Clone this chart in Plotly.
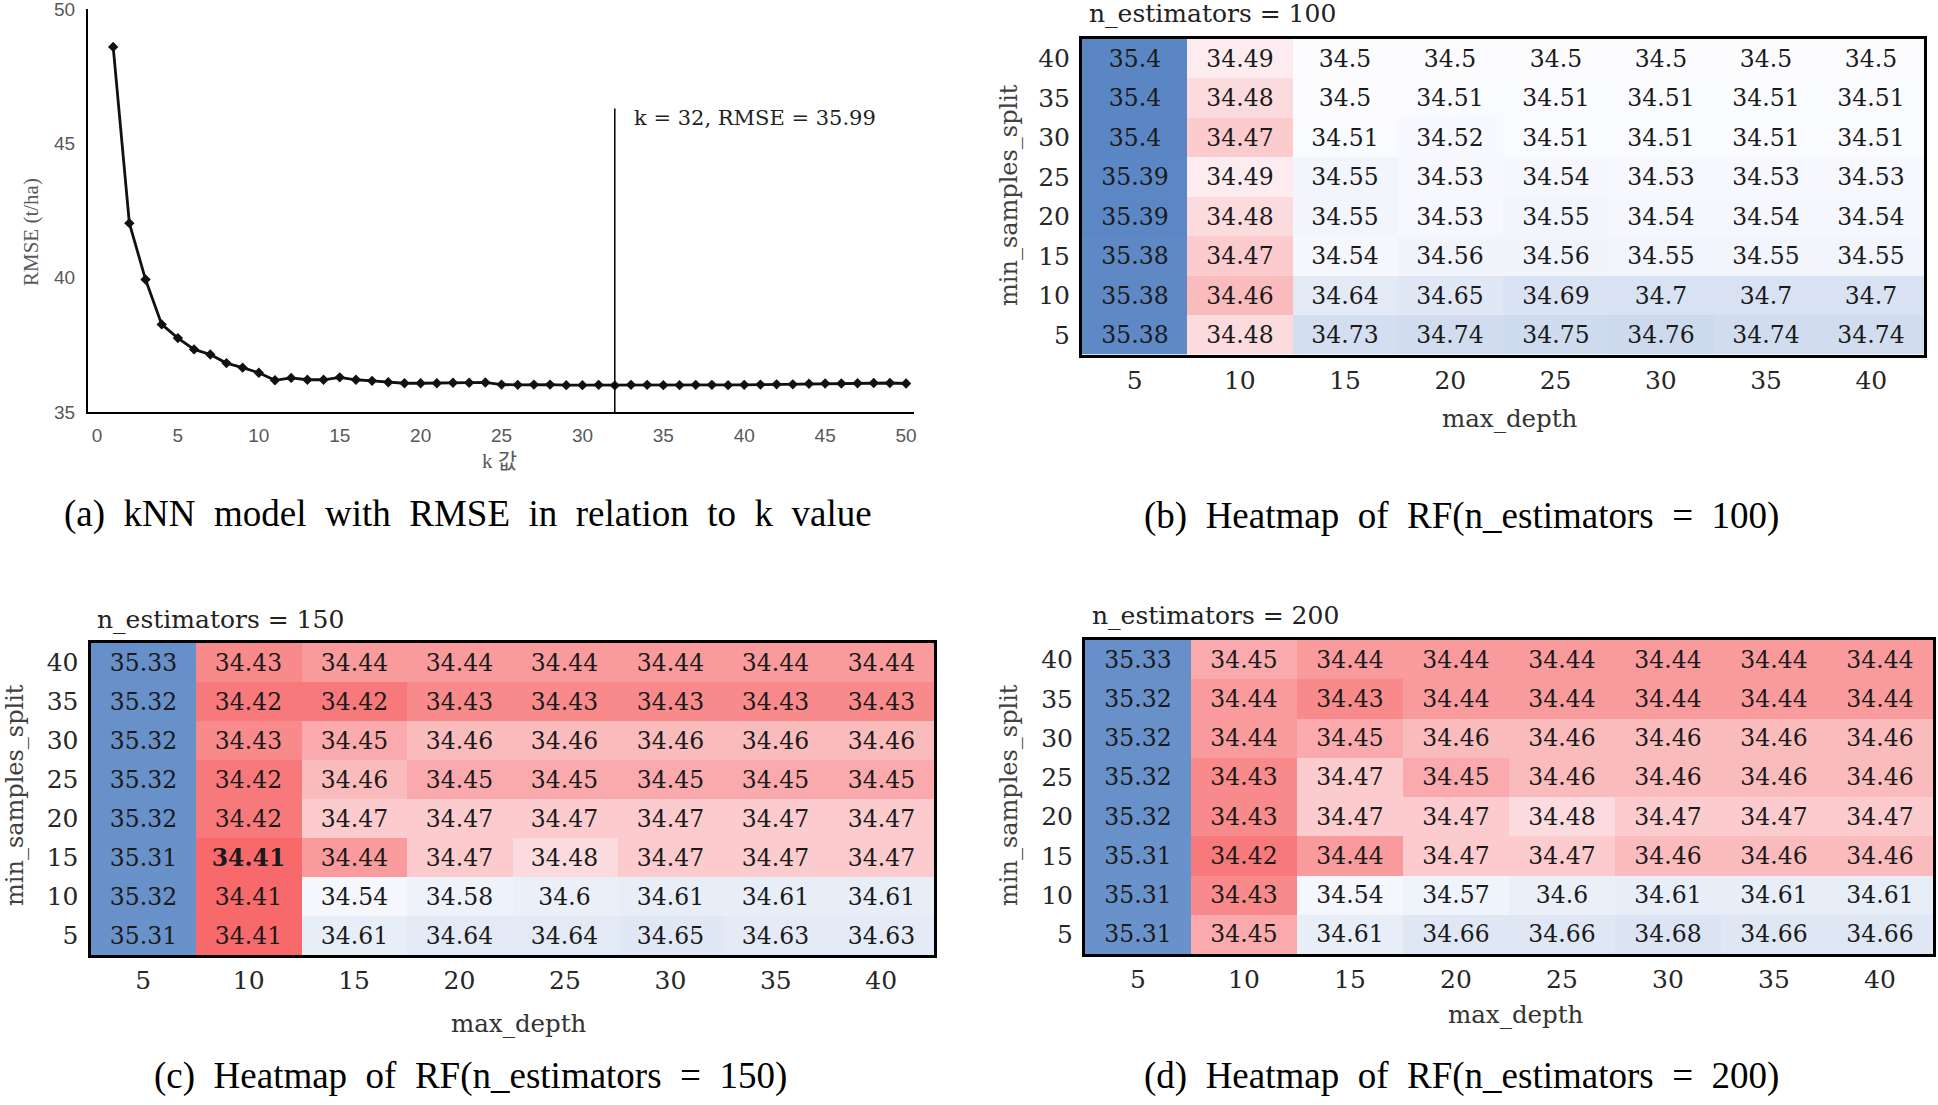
import plotly.graph_objects as go

W, H = 1938, 1105

# ---------------- data ----------------
k_values = list(range(1, 51))
rmse_values = [48.59, 42.03, 39.93, 38.26, 37.75, 37.33, 37.14, 36.82, 36.65, 36.46,
               36.18, 36.27, 36.20, 36.20, 36.29, 36.20, 36.16, 36.11, 36.07, 36.07,
               36.07, 36.09, 36.09, 36.10, 36.02, 36.01, 36.02, 36.02, 36.00, 36.00,
               36.01, 35.99, 36.01, 36.01, 36.00, 36.00, 36.01, 36.01, 36.00, 36.01,
               36.02, 36.03, 36.03, 36.05, 36.06, 36.06, 36.07, 36.08, 36.08, 36.06]
k_ticks = [0, 5, 10, 15, 20, 25, 30, 35, 40, 45, 50]
rmse_ticks = [35, 40, 45, 50]

depth_labels = ["5", "10", "15", "20", "25", "30", "35", "40"]
split_labels = ["40", "35", "30", "25", "20", "15", "10", "5"]

rf100 = [
    [35.4, 34.49, 34.5, 34.5, 34.5, 34.5, 34.5, 34.5],
    [35.4, 34.48, 34.5, 34.51, 34.51, 34.51, 34.51, 34.51],
    [35.4, 34.47, 34.51, 34.52, 34.51, 34.51, 34.51, 34.51],
    [35.39, 34.49, 34.55, 34.53, 34.54, 34.53, 34.53, 34.53],
    [35.39, 34.48, 34.55, 34.53, 34.55, 34.54, 34.54, 34.54],
    [35.38, 34.47, 34.54, 34.56, 34.56, 34.55, 34.55, 34.55],
    [35.38, 34.46, 34.64, 34.65, 34.69, 34.7, 34.7, 34.7],
    [35.38, 34.48, 34.73, 34.74, 34.75, 34.76, 34.74, 34.74],
]
rf150 = [
    [35.33, 34.43, 34.44, 34.44, 34.44, 34.44, 34.44, 34.44],
    [35.32, 34.42, 34.42, 34.43, 34.43, 34.43, 34.43, 34.43],
    [35.32, 34.43, 34.45, 34.46, 34.46, 34.46, 34.46, 34.46],
    [35.32, 34.42, 34.46, 34.45, 34.45, 34.45, 34.45, 34.45],
    [35.32, 34.42, 34.47, 34.47, 34.47, 34.47, 34.47, 34.47],
    [35.31, 34.41, 34.44, 34.47, 34.48, 34.47, 34.47, 34.47],
    [35.32, 34.41, 34.54, 34.58, 34.6, 34.61, 34.61, 34.61],
    [35.31, 34.41, 34.61, 34.64, 34.64, 34.65, 34.63, 34.63],
]
rf200 = [
    [35.33, 34.45, 34.44, 34.44, 34.44, 34.44, 34.44, 34.44],
    [35.32, 34.44, 34.43, 34.44, 34.44, 34.44, 34.44, 34.44],
    [35.32, 34.44, 34.45, 34.46, 34.46, 34.46, 34.46, 34.46],
    [35.32, 34.43, 34.47, 34.45, 34.46, 34.46, 34.46, 34.46],
    [35.32, 34.43, 34.47, 34.47, 34.48, 34.47, 34.47, 34.47],
    [35.31, 34.42, 34.44, 34.47, 34.47, 34.46, 34.46, 34.46],
    [35.31, 34.43, 34.54, 34.57, 34.6, 34.61, 34.61, 34.61],
    [35.31, 34.45, 34.61, 34.66, 34.66, 34.68, 34.66, 34.66],
]
best_150 = ("15", "10")   # (min_samples_split, max_depth) shown in bold
white_point = 34.5

# ---------------- helpers ----------------
def px(p):
    return p / W


def py(p):
    return 1 - p / H


SERIF = "DejaVu Serif"
CAP = "Liberation Serif"
SEP = "\u00a0\u00a0"

allv = [v for t in (rf100, rf150, rf200) for r in t for v in r]
zmin, zmax = min(allv), max(allv)
mid = (white_point - zmin) / (zmax - zmin)
cscale = [[0, "#F8696B"], [mid, "#FCFCFF"], [1, "#5A86C4"]]


def fmt(v):
    return f"{v:g}"


def labels(tab, bold=None):
    out = []
    for i, row in enumerate(tab):
        r = []
        for j, v in enumerate(row):
            s = fmt(v)
            if bold and split_labels[i] == bold[0] and depth_labels[j] == bold[1]:
                s = "<b>" + s + "</b>"
            r.append(s)
        out.append(r)
    return out


fig = go.Figure()

# ---------------- (a) kNN line ----------------
fig.add_trace(go.Scatter(
    x=k_values, y=rmse_values, mode="lines+markers",
    line=dict(color="#111111", width=2.8),
    marker=dict(symbol="diamond", size=8, color="#111111"),
    xaxis="x", yaxis="y", showlegend=False, hoverinfo="skip"))

ib = min(range(len(rmse_values)), key=lambda i: rmse_values[i])
k_best, r_best = k_values[ib], rmse_values[ib]

axis_font_a = dict(family="Liberation Sans", size=19, color="#595959")
lay = dict(
    width=W, height=H, margin=dict(l=0, r=0, t=0, b=0, autoexpand=False),
    paper_bgcolor="white", plot_bgcolor="white", showlegend=False,
    xaxis=dict(domain=[px(88), px(914)], range=[-0.556, 50.49], tickvals=k_ticks,
               showline=True, linewidth=2, linecolor="#000", showgrid=False,
               zeroline=False, ticks="", tickfont=axis_font_a, anchor="y",
               ticklabelstandoff=5, ticklabeloverflow="allow", automargin=False),
    yaxis=dict(domain=[py(412), py(9)], range=[35, 50], tickvals=rmse_ticks,
               showline=True, linewidth=2, linecolor="#000", showgrid=False,
               zeroline=False, ticks="", tickfont=axis_font_a, anchor="x",
               ticklabelstandoff=7, ticklabeloverflow="allow", automargin=False),
)

shapes = [dict(type="line", xref="x", yref="y", x0=k_best, x1=k_best, y0=35, y1=46.3,
               line=dict(color="#000", width=1.5))]
ann = [
    dict(text=f"k = {k_best}, RMSE = {r_best:.2f}", xref="paper", yref="paper",
         x=px(632), y=py(118), xanchor="left", yanchor="middle", showarrow=False,
         font=dict(family=SERIF, size=21, color="#222")),
    dict(text="k 값", xref="paper", yref="paper", x=px(499), y=py(461),
         xanchor="center", yanchor="middle", showarrow=False,
         font=dict(family="Liberation Serif, Noto Sans CJK KR", size=21, color="#595959")),
    dict(text="RMSE (t/ha)", xref="paper", yref="paper", x=px(31), y=py(232),
         xanchor="center", yanchor="middle", showarrow=False, textangle=-90,
         font=dict(family="Liberation Serif", size=21, color="#595959")),
    dict(text=SEP.join("(a) kNN model with RMSE in relation to k value".split(" ")),
         xref="paper", yref="paper", x=px(468), y=py(514), xanchor="center",
         yanchor="middle", showarrow=False, font=dict(family=CAP, size=37, color="#000")),
]

# ---------------- heatmaps ----------------
panels = [
    # table, n_est, axis idx, box(l,t,r,b), title pos, max_depth pos, split pos, caption pos, letter, bold
    (rf100, 100, 2, (1082, 38.5, 1924, 354.5), (1087, 14), (1510, 418), (1009, 195), (1461, 516), "b", None),
    (rf150, 150, 3, (90.5, 642.5, 934, 955), (95, 619), (519, 1023), (15, 795), (470, 1076), "c", best_150),
    (rf200, 200, 4, (1085, 640, 1933, 954), (1090, 615.5), (1516, 1014), (1009, 795), (1461, 1076), "d", None),
]

tickfont_h = dict(family=SERIF, size=25, color="#262626")
for tab, nest, idx, box, tpos, mpos, spos, cpos, letter, bold in panels:
    l, t, r, b = box
    fig.add_trace(go.Heatmap(
        z=tab, x=depth_labels, y=split_labels, xaxis=f"x{idx}", yaxis=f"y{idx}",
        colorscale=cscale, zmin=zmin, zmax=zmax, showscale=False,
        text=labels(tab, bold), texttemplate="%{text}",
        textfont=dict(family=SERIF, size=23.5, color="#1a1a1a"), hoverinfo="skip"))
    lay[f"xaxis{idx}"] = dict(domain=[px(l), px(r)], anchor=f"y{idx}", type="category",
                              showline=True, mirror=True, linewidth=3, linecolor="#000",
                              ticks="", showgrid=False, zeroline=False, tickfont=tickfont_h,
                              ticklabelstandoff=1, automargin=False)
    lay[f"yaxis{idx}"] = dict(domain=[py(b), py(t)], anchor=f"x{idx}", type="category",
                              autorange="reversed", showline=True, mirror=True, linewidth=3,
                              linecolor="#000", ticks="", showgrid=False, zeroline=False,
                              tickfont=tickfont_h, ticklabelstandoff=4, automargin=False)
    ann.append(dict(text=f"n_estimators = {nest}", xref="paper", yref="paper",
                    x=px(tpos[0]), y=py(tpos[1]), xanchor="left", yanchor="middle",
                    showarrow=False, font=dict(family=SERIF, size=25, color="#222")))
    ann.append(dict(text="max_depth", xref="paper", yref="paper",
                    x=px(mpos[0]), y=py(mpos[1]), xanchor="center", yanchor="middle",
                    showarrow=False, font=dict(family=SERIF, size=24.5, color="#333")))
    ann.append(dict(text="min_samples_split", xref="paper", yref="paper",
                    x=px(spos[0]), y=py(spos[1]), xanchor="center", yanchor="middle",
                    textangle=-90, showarrow=False,
                    font=dict(family=SERIF, size=24, color="#404040")))
    cap = f"({letter}) Heatmap of RF(n_estimators = {nest})"
    ann.append(dict(text=SEP.join(cap.split(" ")), xref="paper", yref="paper",
                    x=px(cpos[0]), y=py(cpos[1]), xanchor="center", yanchor="middle",
                    showarrow=False, font=dict(family=CAP, size=37, color="#000")))

lay["shapes"] = shapes
lay["annotations"] = ann
fig.update_layout(**lay)
fig.write_html("out.html")
